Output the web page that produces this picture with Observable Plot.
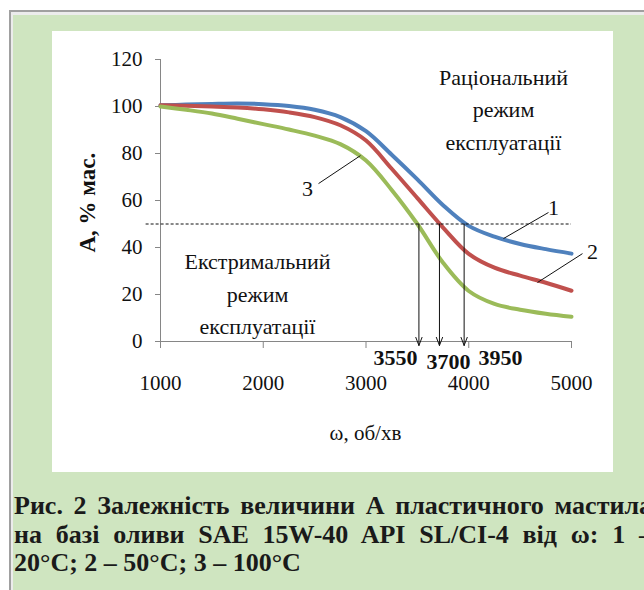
<!DOCTYPE html>
<html>
<head>
<meta charset="utf-8">
<script src="https://cdn.jsdelivr.net/npm/d3@7"></script>
<script src="https://cdn.jsdelivr.net/npm/@observablehq/plot@0.6"></script>
<style>
  html, body { margin: 0; padding: 0; }
  body { width: 644px; height: 590px; overflow: hidden; background: #ffffff; position: relative; }
  #frame { position: absolute; left: 9px; top: 10px; width: 700px; height: 620px;
           border-top: 2px solid #a0a0a0; border-left: 2px solid #a0a0a0;
           background: #cfe5c0; box-shadow: inset 2px 3px 0 #ececec; }
  #panel { position: absolute; left: 52px; top: 31px; width: 561px; height: 441px; background: #ffffff; }
  #caption { position: absolute; left: 14px; top: 492px; width: 638px;
             font: bold 26px "Liberation Serif", "Times New Roman", serif; line-height: 28.5px; color: #1a1a1a; }
  #caption .j { text-align: justify; text-align-last: justify; white-space: nowrap; }
</style>
</head>
<body>
<div id="frame"></div>
<div id="panel"></div>
<div id="caption"></div>
<script>
// ---- data ----
const omega   = [1000,1250,1500,1750,2000,2250,2500,2750,3000,3250,3500,3750,4000,4250,4500,4750,5000];
const curve1  = [100.5,100.8,101.1,101.3,101.0,100.2,98.6,95.5,89.5,79.5,69.0,58.0,49.2,44.6,41.5,39.3,37.4]; // 1 – 20°C
const curve2  = [100.5,100.3,100.0,99.6,98.8,97.5,95.5,92.0,85.5,73.5,61.0,48.5,37.3,31.4,28.0,25.0,21.6];   // 2 – 50°C
const curve3  = [100.0,98.6,97.0,94.8,92.5,90.2,87.6,84.0,77.0,64.5,50.0,33.5,21.5,16.0,13.5,11.8,10.5];     // 3 – 100°C
const seriesNames = ["1","2","3"];
const seriesColors = ["#4f81bd","#c0504d","#9bbb59"];
const xTicks = [1000,2000,3000,4000,5000];
const yTicks = [0,20,40,60,80,100,120];
const thresholdA = 50;
const thresholdFrom = 860;
const critArrowX = [3515,3715,3955];
const critLabels = ["3550","3700","3950"];
const critLabelX = [3287,3803,4309];
const critLabelY = [-6.8,-8.9,-6.8];
const xTitle = "ω, об/хв";
const yTitle = "А, % мас.";
const zoneTexts = ["Раціональний\nрежим\nексплуатації","Екстримальний\nрежим\nексплуатації"];
const zoneX = [4338,1944];
const zoneY = [99.8,21.3];
const tagX = [4825,5204,2431];
const tagY = [57,37.9,65.1];
const leaderFrom = [[4776,54.9],[5107,37.4],[2538,67.2]];
const leaderTo   = [[4338,43.8],[4669,25.1],[2946,79.1]];
const captionLines = [
  "Рис. 2 Залежність величини А пластичного мастила",
  "на базі оливи SAE 15W-40 API SL/CI-4 від ω: 1 –",
  "20°C; 2 – 50°C; 3 – 100°C"
];

// ---- build ----
const rows = [];
[curve1, curve2, curve3].forEach((c, k) => omega.forEach((w, i) => rows.push({w, A: c[i], s: seriesNames[k]})));
const tags = seriesNames.map((s, i) => ({s, x: tagX[i], y: tagY[i], x1: leaderFrom[i][0], y1: leaderFrom[i][1], x2: leaderTo[i][0], y2: leaderTo[i][1]}));
const crit = critArrowX.map((x, i) => ({x, label: critLabels[i], lx: critLabelX[i], ly: critLabelY[i]}));
const zones = zoneTexts.map((t, i) => ({t, x: zoneX[i], y: zoneY[i]}));
const axisGray = "#868686";
const ink = "#111111";

const chart = Plot.plot({
  width: 561, height: 441,
  marginLeft: 108, marginRight: 42, marginTop: 28, marginBottom: 131,
  x: {domain: [1000, 5000]},
  y: {domain: [0, 120]},
  color: {domain: seriesNames, range: seriesColors},
  style: {fontFamily: "'Liberation Serif', 'Times New Roman', serif", fontSize: "21px", color: ink, background: "transparent", overflow: "visible"},
  marks: [
    Plot.ruleX([1000], {y1: 0, y2: 120, stroke: axisGray}),
    Plot.ruleY([0], {x1: 1000, x2: 5000, stroke: axisGray}),
    Plot.axisY(yTicks, {tickSize: 5, tickPadding: 13, stroke: axisGray, fill: ink, label: null, fontSize: 21}),
    Plot.axisX(xTicks, {tickSize: 7, tickPadding: 27, stroke: axisGray, fill: ink, label: null, fontSize: 21, tickFormat: d => String(d)}),
    Plot.line(rows, {x: "w", y: "A", z: "s", stroke: "s", curve: "catmull-rom", strokeWidth: 4}),
    Plot.ruleY([thresholdA], {x1: thresholdFrom, x2: 5000, stroke: ink, strokeDasharray: "3,2", strokeWidth: 1}),
    Plot.arrow(crit, {x1: "x", x2: "x", y1: thresholdA, y2: -1.7, stroke: ink, strokeWidth: 1, headAngle: 42, headLength: 13}),
    Plot.text(crit, {x: "lx", y: "ly", text: "label", fontWeight: "bold", fontSize: 22, fill: ink}),
    Plot.link(tags, {x1: "x1", y1: "y1", x2: "x2", y2: "y2", stroke: ink, strokeWidth: 1}),
    Plot.text(tags, {x: "x", y: "y", text: "s", fontSize: 22, fill: ink}),
    Plot.text(zones, {x: "x", y: "y", text: "t", fontSize: 22, lineHeight: 1.47, fill: ink}),
    Plot.text([xTitle], {x: 2995, y: -39, text: d => d, fontSize: 21, fill: ink}),
    Plot.text([yTitle], {x: 290, y: 59.1, text: d => d, rotate: -90, fontSize: 23, fontWeight: "bold", fill: ink})
  ]
});
document.getElementById("panel").appendChild(chart);

const cap = document.getElementById("caption");
captionLines.forEach((t, i) => {
  const d = document.createElement("div");
  d.textContent = t;
  if (i < captionLines.length - 1) d.className = "j";
  cap.appendChild(d);
});
</script>
</body>
</html>
